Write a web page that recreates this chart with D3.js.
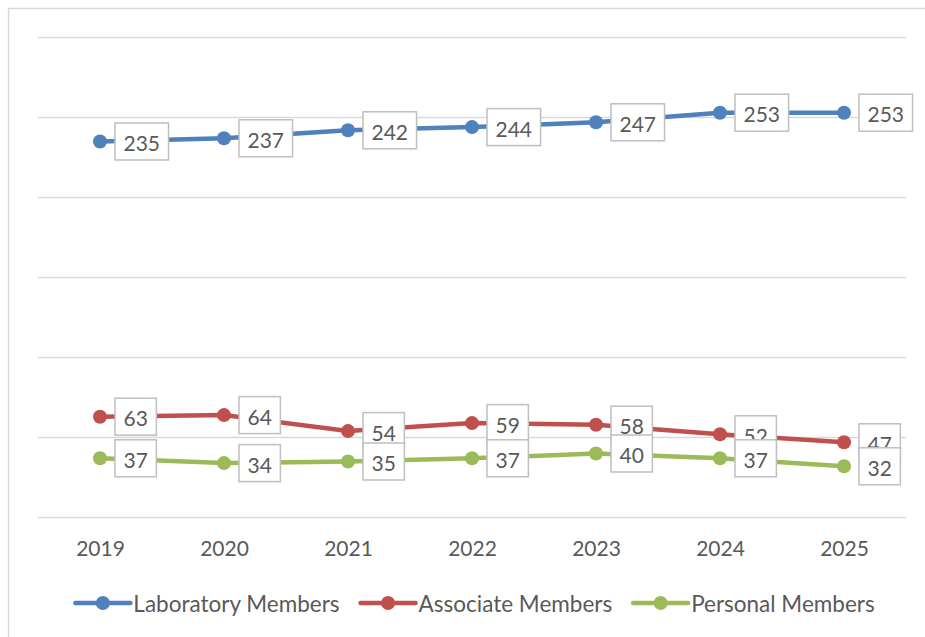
<!DOCTYPE html>
<html>
<head>
<meta charset="utf-8">
<script src="https://cdn.jsdelivr.net/npm/d3@7"></script>
<style>
  body { margin: 0; background: #fff; }
  text { font-family: Lato, "Open Sans", sans-serif; fill: #595959; }
</style>
</head>
<body>
<div id="graph"></div>
<script>
var years = ["2019", "2020", "2021", "2022", "2023", "2024", "2025"];
var laboratory = [235, 237, 242, 244, 247, 253, 253];
var associate = [63, 64, 54, 59, 58, 52, 47];
var personal = [37, 34, 35, 37, 40, 37, 32];
var seriesNames = ["Laboratory Members", "Associate Members", "Personal Members"];
var yTicks = [0, 50, 100, 150, 200, 250, 300];

var colors = ["#4f81bd", "#c0504d", "#9bbb59"];
var seriesValues = [laboratory, associate, personal];

var width = 925, height = 637;
var plotLeft = 38, plotRight = 906, plotTop = 37.5, plotBottom = 517.5;

var svg = d3.select('#graph')
  .append('svg')
    .attr("width", width)
    .attr("height", height);

// chart frame (only top and left edges fall inside the picture)
svg.append("rect")
    .attr("x", 8.5)
    .attr("y", 8.5)
    .attr("width", 940)
    .attr("height", 650)
    .attr("fill", "none")
    .attr("stroke", "#d9d9d9")
    .attr("stroke-width", 1.5);

var x = d3.scalePoint()
    .domain(years)
    .range([plotLeft, plotRight])
    .padding(0.5);

var y = d3.scaleLinear()
    .domain([0, 300])
    .range([plotBottom, plotTop]);

// gridlines
svg.append("g")
    .selectAll("line")
    .data(yTicks)
    .join("line")
      .attr("x1", plotLeft)
      .attr("x2", plotRight)
      .attr("y1", function(d) { return y(d); })
      .attr("y2", function(d) { return y(d); })
      .attr("stroke", "#d9d9d9")
      .attr("stroke-width", 1.3);

// X axis
var xAxis = svg.append("g")
    .attr("transform", "translate(0," + plotBottom + ")")
    .call(d3.axisBottom(x).tickSize(0).tickPadding(24));
xAxis.select(".domain").remove();
xAxis.selectAll("text")
    .attr("font-size", 21)
    .style("font-family", "Lato, 'Open Sans', sans-serif")
    .attr("fill", "#595959");

var data = seriesNames.map(function(name, i) {
  return {
    name: name,
    color: colors[i],
    points: years.map(function(yr, j) { return {year: yr, value: seriesValues[i][j]}; })
  };
});

var line = d3.line()
    .x(function(d) { return x(d.year); })
    .y(function(d) { return y(d.value); });

// lines and markers
data.forEach(function(s) {
  svg.append("path")
      .datum(s.points)
      .attr("fill", "none")
      .attr("stroke", s.color)
      .attr("stroke-width", 4.5)
      .attr("stroke-linejoin", "round")
      .attr("d", line);

  svg.append("g")
    .selectAll("circle")
    .data(s.points)
    .join("circle")
      .attr("cx", function(d) { return x(d.year); })
      .attr("cy", function(d) { return y(d.value); })
      .attr("r", 7)
      .attr("fill", s.color);
});

// data labels to the right of each point
data.forEach(function(s) {
  var g = svg.append("g")
    .selectAll("g")
    .data(s.points)
    .join("g")
      .attr("transform", function(d) { return "translate(" + (x(d.year) + 15) + "," + y(d.value) + ")"; });

  var rects = g.append("rect");
  var texts = g.append("text")
      .attr("font-size", 21)
      .attr("dominant-baseline", "central")
      .attr("text-anchor", "middle")
      .text(function(d) { return d.value; });

  texts.each(function(d) { d.w = this.getComputedTextLength() + 17; });
  texts.attr("x", function(d) { return d.w / 2; })
      .attr("y", 1);
  rects.attr("x", 0)
      .attr("y", -18.5)
      .attr("width", function(d) { return d.w; })
      .attr("height", 37)
      .attr("fill", "#fff")
      .attr("stroke", "#bfbfbf")
      .attr("stroke-width", 1.5);
});

// legend
var legend = svg.append("g");
var cursor = 0;
data.forEach(function(s, i) {
  var item = legend.append("g").attr("transform", "translate(" + cursor + ",603)");
  item.append("line")
      .attr("x1", 0).attr("x2", 55)
      .attr("stroke", s.color)
      .attr("stroke-width", 4.5)
      .attr("stroke-linecap", "round");
  item.append("circle")
      .attr("cx", 27.5)
      .attr("r", 7)
      .attr("fill", s.color);
  var t = item.append("text")
      .attr("x", 58)
      .attr("font-size", 22.5)
      .attr("dominant-baseline", "central")
      .text(s.name);
  cursor += 58 + t.node().getComputedTextLength() + 21;
});
var legendWidth = cursor - 21;
legend.attr("transform", "translate(" + (475 - legendWidth / 2) + ",0)");
</script>
</body>
</html>
